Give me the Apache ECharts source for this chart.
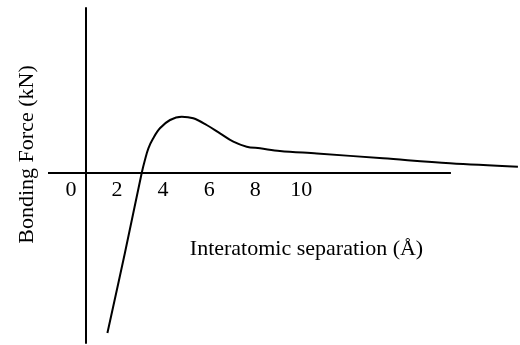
<!DOCTYPE html>
<html>
<head>
<meta charset="utf-8">
<script src="https://cdn.jsdelivr.net/npm/echarts@6/dist/echarts.min.js"></script>
<style>
  html, body { margin: 0; padding: 0; background: #ffffff; }
  #chart { width: 520px; height: 345px; }
</style>
</head>
<body>
<div id="chart"></div>
<script>
// Interatomic separation (Å) along the curve
const separation = [1.58, 2.34, 3.07, 3.21, 3.36, 3.57, 3.86, 4.30, 4.81, 5.31, 5.89, 6.47, 7.05, 7.63, 8.21, 9.07, 10.68, 13.55, 16.46, 19.41];
// Bonding force (arbitrary kN scale) at each separation
const bondingForce = [-16.0, -8.0, 0, 1.3, 2.47, 3.47, 4.47, 5.3, 5.63, 5.47, 4.8, 3.97, 3.13, 2.63, 2.47, 2.2, 1.95, 1.47, 0.97, 0.63];
// Labelled separations on the horizontal axis
const tickValues = [0, 2, 4, 6, 8, 10];
// Extent of the drawn separation axis
const axisStart = -1, axisEnd = 16.5;

const fontFamily = '"Liberation Serif", "Times New Roman", serif';
const chart = echarts.init(document.getElementById('chart'), null, { renderer: 'canvas' });

const yMin = -17, yMax = 16.5;
const gridTop = 8, gridBottom = 2;
const plotHeight = 345 - gridTop - gridBottom;
// shift the horizontal axis labels up from the grid bottom to the zero force level
const zeroOffset = -plotHeight * (0 - yMin) / (yMax - yMin);

chart.setOption({
  backgroundColor: '#ffffff',
  animation: false,
  grid: { left: 48, right: 0, top: gridTop, bottom: gridBottom, containLabel: false, outerBoundsMode: 'none' },
  xAxis: {
    type: 'value',
    min: axisStart,
    max: 19.5,
    offset: zeroOffset,
    name: 'Interatomic separation (Å)',
    nameLocation: 'middle',
    nameGap: 65,
    nameTextStyle: { fontFamily, fontSize: 22, color: '#000', padding: [0, 0, 0, 45] },
    axisLine: { show: false },
    axisTick: { show: false },
    splitLine: { show: false },
    axisLabel: {
      customValues: tickValues,
      fontFamily, fontSize: 22, color: '#000', margin: 6
    }
  },
  yAxis: {
    type: 'value',
    min: yMin,
    max: yMax,
    offset: -38,
    name: 'Bonding Force (kN)',
    nameLocation: 'middle',
    nameRotate: 90,
    nameGap: 48,
    nameTextStyle: { fontFamily, fontSize: 22, color: '#000', padding: [0, 0, 0, 42] },
    axisLine: { onZero: false, lineStyle: { color: '#000', width: 2 } },
    axisTick: { show: false },
    axisLabel: { show: false },
    splitLine: { show: false }
  },
  series: [{
    type: 'line',
    data: separation.map((x, i) => [x, bondingForce[i]]),
    smooth: 0.35,
    showSymbol: false,
    clip: false,
    lineStyle: { color: '#000', width: 2 },
    // zero-force baseline along the separation axis
    markLine: {
      silent: true,
      symbol: 'none',
      label: { show: false },
      lineStyle: { color: '#000', width: 2, type: 'solid' },
      data: [[{ coord: [axisStart, 0] }, { coord: [axisEnd, 0] }]]
    }
  }]
});
</script>
</body>
</html>
